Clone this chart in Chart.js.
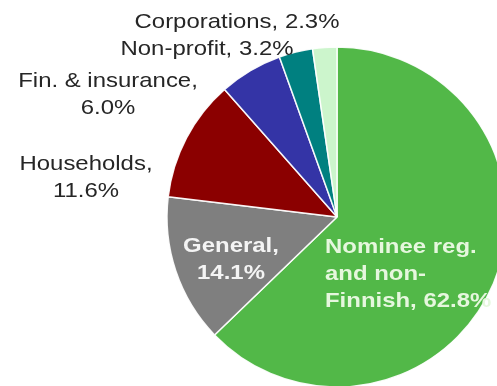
<!DOCTYPE html>
<html>
<head>
<meta charset="utf-8">
<script src="https://cdn.jsdelivr.net/npm/chart.js@4"></script>
<style>
  html, body { margin: 0; padding: 0; background: #ffffff; }
  #wrap { width: 497px; height: 386px; overflow: hidden; position: relative; }
  canvas { display: block; }
</style>
</head>
<body>
<div id="wrap"><canvas id="c" width="530" height="400"></canvas></div>
<script>
// Shareholder groups, clockwise from 12 o'clock
const categories = [
  'Nominee reg. and non-Finnish',
  'General',
  'Households',
  'Fin. & insurance',
  'Non-profit',
  'Corporations'
];
const shares = [62.8, 14.1, 11.6, 6.0, 3.2, 2.3];

const sliceColors = ['#52b848', '#7f7f7f', '#8b0000', '#3434a6', '#008080', '#ccf5cc'];

// Where each category label wraps (text before each break ends a line)
const wraps = [
  ['Nominee reg. ', 'and non-'],
  ['General, '],
  ['Households, '],
  ['Fin. & insurance, '],
  [],
  []
];

// Label placement relative to the pie centre: dx, dy of the first line,
// alignment, colour, weight
const labelStyle = [
  { dx: -12, dy: 30, align: 'left',   color: '#e6f7de', bold: true },
  { dx: -106, dy: 29, align: 'center', color: '#f4f4f4', bold: true },
  { dx: -251, dy: -53, align: 'center', color: '#262626', bold: false },
  { dx: -229, dy: -136, align: 'center', color: '#262626', bold: false },
  { dx: -130, dy: -168, align: 'center', color: '#262626', bold: false },
  { dx: -100, dy: -195, align: 'center', color: '#262626', bold: false }
];

function labelLines(i) {
  let text = categories[i] + ', ' + shares[i].toFixed(1) + '%';
  const lines = [];
  for (const head of wraps[i]) {
    lines.push(head.trim());
    text = text.slice(head.length);
  }
  lines.push(text);
  return lines;
}

const sliceLabels = {
  id: 'sliceLabels',
  afterDatasetsDraw(chart) {
    const ctx = chart.ctx;
    const arcs = chart.getDatasetMeta(0).data;
    const lineGap = 27;
    const stretch = 1.14;
    arcs.forEach((arc, i) => {
      const s = labelStyle[i];
      const lines = labelLines(i);
      ctx.save();
      ctx.fillStyle = s.color;
      ctx.font = (s.bold ? 'bold ' : '') + '21px "Liberation Sans", Arial, sans-serif';
      ctx.textAlign = s.align;
      ctx.textBaseline = 'middle';
      lines.forEach((ln, k) => {
        ctx.save();
        ctx.translate(arc.x + s.dx, arc.y + s.dy + k * lineGap);
        ctx.scale(stretch, 1);
        ctx.fillText(ln, 0, 0);
        ctx.restore();
      });
      ctx.restore();
    });
  }
};

new Chart(document.getElementById('c'), {
  type: 'pie',
  data: {
    labels: categories,
    datasets: [{
      data: shares,
      backgroundColor: sliceColors,
      borderColor: 'rgba(255,255,255,0.92)',
      borderWidth: 1.5
    }]
  },
  options: {
    responsive: false,
    animation: false,
    devicePixelRatio: 1,
    radius: 170,
    layout: { padding: { left: 167, top: 47, right: 23, bottom: 13 } },
    plugins: {
      legend: { display: false },
      tooltip: { enabled: false }
    }
  },
  plugins: [sliceLabels]
});
</script>
</body>
</html>
